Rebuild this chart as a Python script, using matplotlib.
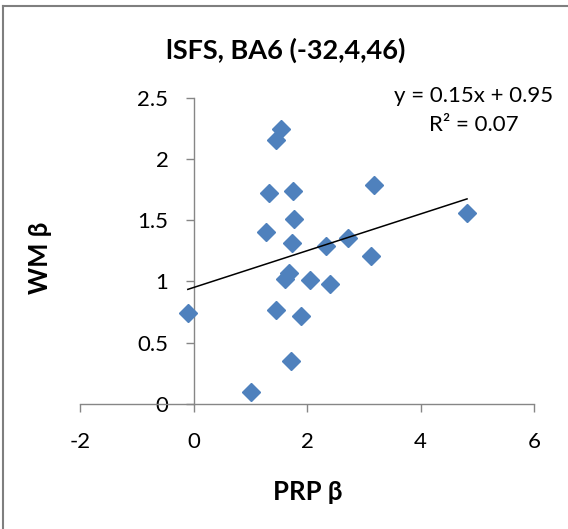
import numpy as np
import matplotlib
matplotlib.use("Agg")
import matplotlib.pyplot as plt
from matplotlib.lines import Line2D

plt.rcParams["font.family"] = ["Lato", "DejaVu Sans"]

# PRP beta (x) and WM beta (y)
prp_beta = [-0.10, 1.01, 1.54, 1.45, 1.33, 1.76, 1.27, 1.77, 1.74, 1.69, 1.61,
            2.05, 2.41, 2.34, 2.72, 3.13, 3.18, 4.82, 1.46, 1.90, 1.71]
wm_beta = [0.74, 0.10, 2.24, 2.15, 1.72, 1.74, 1.40, 1.51, 1.31, 1.07, 1.02,
           1.01, 0.98, 1.29, 1.35, 1.21, 1.79, 1.56, 0.77, 0.72, 0.35]

slope = 0.15
intercept = 0.95
r2 = 0.07

x_ticks = [-2, 0, 2, 4, 6]
y_ticks = [0, 0.5, 1, 1.5, 2, 2.5]

gray = "#868686"
blue = "#4F81BD"

fig = plt.figure(figsize=(5.68, 5.29), dpi=100)
ax = fig.add_axes([80 / 568, 1 - 404 / 529, 454 / 568, 306.5 / 529])

ax.plot(prp_beta, wm_beta, ls="none", marker="D", ms=9.2, color=blue, zorder=3)

xs = np.array([min(prp_beta), max(prp_beta)])
ax.plot(xs, slope * xs + intercept, color="black", lw=1.1, zorder=4)

ax.set_xlim(-2, 6)
ax.set_ylim(0, 2.5)
ax.set_xticks(x_ticks)
ax.set_yticks(y_ticks)
ax.set_xticklabels([str(t) for t in x_ticks])
ax.set_yticklabels(["0", "0.5", "1", "1.5", "2", "2.5"])

ax.spines["right"].set_visible(False)
ax.spines["top"].set_visible(False)
ax.spines["left"].set_position(("data", 0))
ax.spines["left"].set_color(gray)
ax.spines["bottom"].set_color(gray)
ax.spines["left"].set_linewidth(1.0)
ax.spines["bottom"].set_linewidth(1.0)
ax.tick_params(axis="both", direction="out", length=6, width=1.0, color=gray,
               labelsize=16, labelcolor="black")
ax.tick_params(axis="y", pad=12)
ax.tick_params(axis="x", pad=14)

fig.text(286 / 568, 1 - 50 / 529, "lSFS, BA6 (-32,4,46)", fontsize=19.5,
         fontweight="bold", ha="center", va="center")
fig.text(474 / 568, 1 - 96 / 529, "y = 0.15x + 0.95", fontsize=16,
         ha="center", va="center")
fig.text(474 / 568, 1 - 125 / 529, "R² = {:.2f}".format(r2), fontsize=16,
         ha="center", va="center")
fig.text(40 / 568, 1 - 258 / 529, "WM β", fontsize=18.5, fontweight="bold",
         rotation=90, ha="center", va="center")
fig.text(308 / 568, 1 - 492 / 529, "PRP β", fontsize=18.5, fontweight="bold",
         ha="center", va="center")

# chart frame edges
fig.add_artist(Line2D([3.5 / 568, 3.5 / 568], [0, 1 - 5.5 / 529], color="#7f7f7f", lw=1.5))
fig.add_artist(Line2D([3.5 / 568, 1], [1 - 5.5 / 529, 1 - 5.5 / 529], color="#7f7f7f", lw=1.5))

fig.savefig("out.png", dpi=100)
